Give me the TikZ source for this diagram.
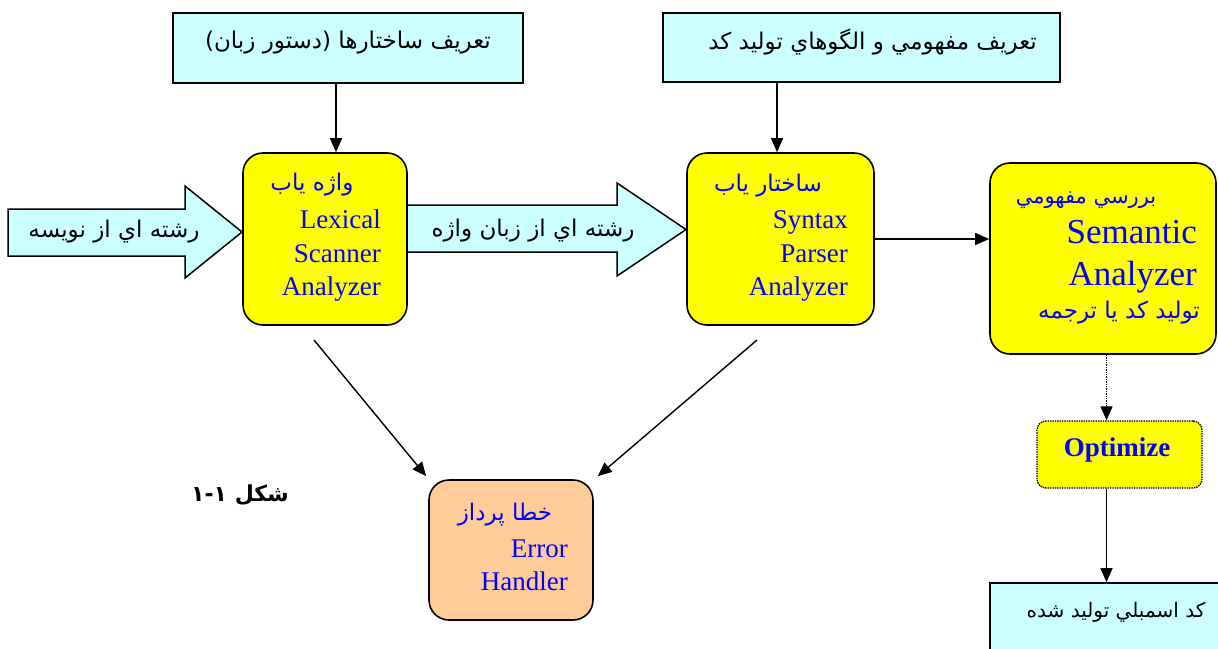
\documentclass[tikz,border=0pt]{standalone}
\usepackage{fontspec}
\setmainfont{Liberation Serif}
\newfontfamily\arabicfont[Script=Arabic]{DejaVu Sans}
\TeXXeTstate=1
\usetikzlibrary{arrows.meta}

\definecolor{paleblue}{HTML}{CCFFFF}
\definecolor{boxyellow}{HTML}{FFFF00}
\definecolor{boxorange}{HTML}{FFCC99}
\definecolor{textblue}{HTML}{0000FF}

% right-to-left Persian text
\newcommand{\fatext}[1]{{\arabicfont\beginR #1\endR}}

\tikzset{
  infobox/.style={draw=black, line width=1.6pt, fill=paleblue, inner sep=0pt},
  stagebox/.style={draw=black, line width=1.6pt, fill=boxyellow, rounded corners=20pt, inner sep=0pt},
  errbox/.style={draw=black, line width=1.6pt, fill=boxorange, rounded corners=20pt, inner sep=0pt},
  optbox/.style={draw=black, line width=1.4pt, densely dotted, fill=boxyellow, rounded corners=9pt, inner sep=0pt},
  blockarrow/.style={draw=black, line width=1.5pt, fill=paleblue, line join=miter},
  conn/.style={draw=black, line width=1.4pt, -{Triangle[length=14pt,width=12pt]}},
  fablack/.style={font=\fontsize{23pt}{27pt}\selectfont\arabicfont, text=black, inner sep=0pt},
  fablue/.style={font=\fontsize{23pt}{27pt}\selectfont\arabicfont, text=textblue, inner sep=0pt},
  enblue/.style={font=\fontsize{27pt}{32pt}\selectfont, text=textblue, inner sep=0pt, anchor=base east},
  enbig/.style={font=\fontsize{35pt}{42pt}\selectfont, text=textblue, inner sep=0pt, anchor=base east},
}

\begin{document}
\begin{tikzpicture}[x=1pt, y=-1pt]
\useasboundingbox (0,0) rectangle (1218,648);

% input block arrows
\draw[blockarrow] (8,209) -- (185,209) -- (185,186) -- (242,232) -- (185,278) -- (185,256) -- (8,256) -- cycle;
\node[fablack] (instr) at (114,232) {\fatext{رشته اي از نويسه}};
\draw[blockarrow] (407,205) -- (617,205) -- (617,183) -- (686,229.5) -- (617,276) -- (617,252) -- (407,252) -- cycle;
\node[fablack] (tokstr) at (533,231) {\fatext{رشته اي از زبان واژه}};

% definition boxes
\node[infobox, minimum width=350pt, minimum height=70pt] (grammar) at (348,48) {};
\node[fablack] (grammartxt) at (348,43) {\fatext{تعريف ساختارها (دستور زبان)}};
\node[infobox, minimum width=397pt, minimum height=69pt] (semdef) at (861.5,47.5) {};
\node[fablack, anchor=east] (semdeftxt) at (1037,42) {\fatext{تعريف مفهومي و الگوهاي توليد كد}};

% compiler stages
\node[stagebox, minimum width=164pt, minimum height=172pt] (lex) at (325,239) {};
\node[fablue] (lexfa) at (312,185) {\fatext{واژه ياب}};
\node[enblue] (lex1) at (381,228) {Lexical};
\node[enblue] (lex2) at (381,262) {Scanner};
\node[enblue] (lex3) at (381,295) {Analyzer};

\node[stagebox, minimum width=187pt, minimum height=172pt] (syn) at (780.5,239) {};
\node[fablue] (synfa) at (768,186) {\fatext{ساختار ياب}};
\node[enblue] (syn1) at (848,228) {Syntax};
\node[enblue] (syn2) at (848,262) {Parser};
\node[enblue] (syn3) at (848,295) {Analyzer};

\node[stagebox, minimum width=226pt, minimum height=191pt] (sem) at (1103,258.5) {};
\node[fablue, font=\fontsize{21pt}{25pt}\selectfont\arabicfont] (semfa) at (1086,200) {\fatext{بررسي مفهومي}};
\node[enbig] (sem1) at (1197,243) {Semantic};
\node[enbig] (sem2) at (1197,285) {Analyzer};
\node[fablue] (semfa2) at (1119,313) {\fatext{توليد كد يا ترجمه}};

\node[optbox, minimum width=165pt, minimum height=67pt] (opt) at (1119.5,454.5) {};
\node[font=\fontsize{27pt}{32pt}\selectfont\bfseries, text=textblue, inner sep=0pt] (opttxt) at (1117,450) {Optimize};

\node[infobox, minimum width=240pt, minimum height=90pt] (asm) at (1110,628) {};
\node[fablack, font=\fontsize{20pt}{24pt}\selectfont\arabicfont] (asmtxt) at (1116,612) {\fatext{كد اسمبلي توليد شده}};

\node[errbox, minimum width=164pt, minimum height=140pt] (err) at (511,550) {};
\node[fablue] (errfa) at (505,515) {\fatext{خطا پرداز}};
\node[enblue] (err1) at (568,557) {Error};
\node[enblue] (err2) at (568,590) {Handler};

% caption
\node[font=\fontsize{22pt}{26pt}\selectfont\arabicfont\bfseries, inner sep=0pt] (caption) at (240,495) {\fatext{شكل ١-١}};

% connectors
\coordinate (optx) at (1106.5,0);
\draw[conn] ([xshift=-12pt]grammar.south) -- ([xshift=11pt]lex.north);
\draw[conn] ([xshift=-84.5pt]semdef.south) -- ([xshift=-3.5pt]syn.north);
\draw[conn] (syn.east) -- (sem.west |- syn.east);
\draw[conn, densely dotted] (sem.south -| optx) -- (opt.north -| optx);
\draw[conn] (opt.south -| optx) -- (asm.north -| optx);
\coordinate (lexdrop) at (314,340);
\coordinate (syndrop) at (757,340);
\draw[conn] (lexdrop) -- ([shift={(-2pt,3pt)}]err.north west);
\draw[conn] (syndrop) -- ([shift={(4pt,3pt)}]err.north east);
\end{tikzpicture}
\end{document}
